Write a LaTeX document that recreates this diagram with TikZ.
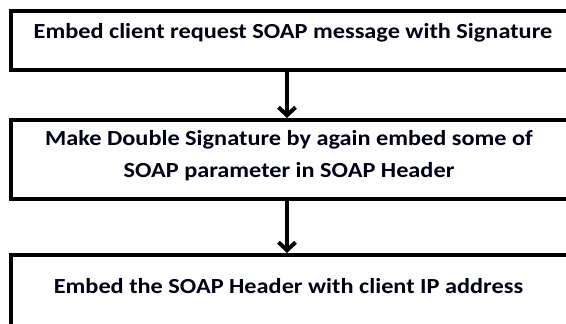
\documentclass[tikz,border=0pt]{standalone}
\usepackage{fontspec}
\setmainfont{Carlito}[FakeStretch=1.13]
\usetikzlibrary{arrows.meta}
\begin{document}
\begin{tikzpicture}[x=1pt,y=-1pt]
        \tikzstyle{process}=[rectangle,draw=black,line width=4pt,minimum width=559pt,inner sep=0pt]
        \tikzstyle{caption}=[font=\bfseries\fontsize{21.5}{32}\selectfont,align=center,inner sep=0pt,text=black!92!blue]
        \tikzstyle{edge}=[draw,line width=4pt,-{Straight Barb[length=8pt,width=17pt]}]
        \useasboundingbox (0,0) rectangle (566,324);
        \begin{scope}
            \node [process,minimum height=59pt] (b1) at (290.5,40.5) {};
            \node [process,minimum height=79pt] (b2) at (290.5,159.5) {};
            \node [process,minimum height=80pt] (b3) at (290.5,295) {};
            \node [caption,anchor=base] (t1) at (293,38) {Embed client request SOAP message with Signature};
            \node [caption,anchor=north] (t2) at (289,130) {Make Double Signature by again embed some of\\SOAP parameter in SOAP Header};
            \node [caption,anchor=base] (t3) at (288.5,293) {Embed the SOAP Header with client IP address};
            \path[edge] ([xshift=-3.5pt]b1.south) -- ([xshift=-3.5pt]b2.north);
            \path[edge] ([xshift=-3.5pt]b2.south) -- ([xshift=-3.5pt]b3.north);
        \end{scope}
\end{tikzpicture}
\end{document}
